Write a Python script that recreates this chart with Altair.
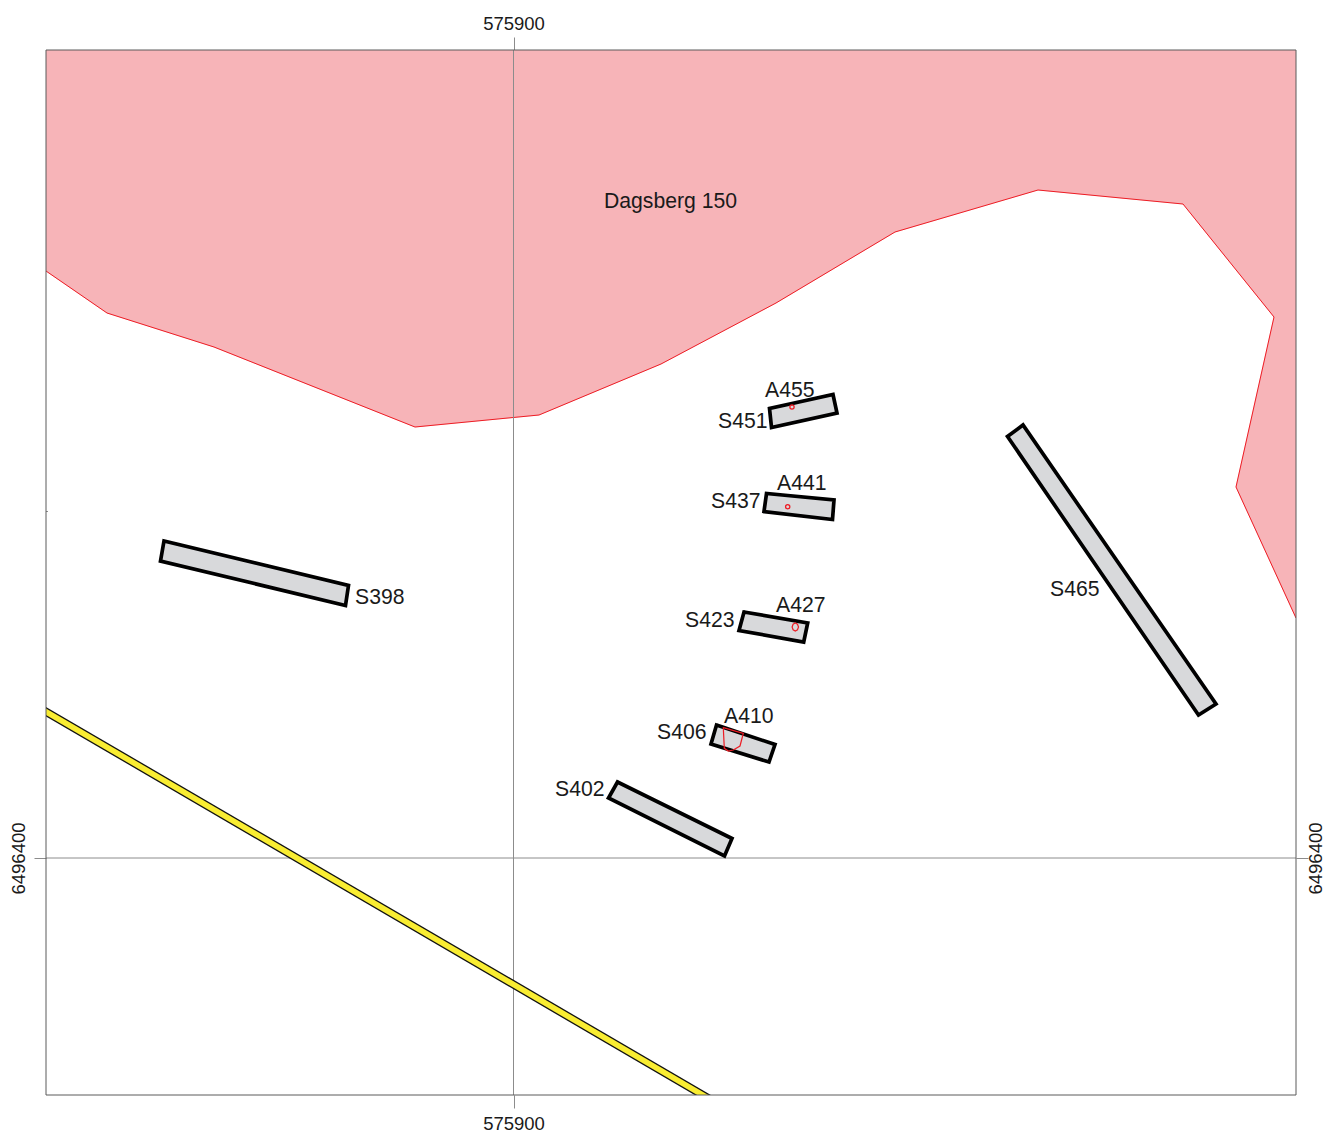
import altair as alt
import pandas as pd

E0 = 575900
N0 = 6496400
X_DOMAIN = [E0 - 46.75, E0 + 78.25]
Y_DOMAIN = [N0 - 23.7, N0 + 80.8]

# All offsets are map metres from the labelled grid crossing.
zone_dx = [-46.75, 78.25, 78.25, 72.25, 76.05, 66.95, 52.45, 38.15, 26.25, 14.75, 2.55, -9.85, -29.95, -40.65, -46.75, -46.75]
zone_dy = [80.8, 80.8, 24.0, 37.1, 54.1, 65.4, 66.8, 62.6, 55.5, 49.4, 44.3, 43.1, 51.1, 54.5, 58.7, 80.8]
zone_edge_dx = [78.25, 72.25, 76.05, 66.95, 52.45, 38.15, 26.25, 14.75, 2.55, -9.85, -29.95, -40.65, -46.75]
zone_edge_dy = [24.0, 37.1, 54.1, 65.4, 66.8, 62.6, 55.5, 49.4, 44.3, 43.1, 51.1, 54.5, 58.7]

road_dx = [-47.75, 19.85]
road_dy = [15.22, -24.24]

trenches = {
    "S398": ([-34.95, -16.5, -16.8, -35.3], [31.7, 27.25, 25.25, 29.7]),
    "S465": ([50.95, 49.4, 68.5, 70.25], [43.3, 42.15, 14.3, 15.4]),
    "S451": ([25.6, 31.95, 32.35, 25.8], [44.95, 46.35, 44.5, 43.05]),
    "S437": ([25.3, 32.05, 31.9, 25.05], [36.45, 35.8, 33.85, 34.65]),
    "S423": ([23.05, 29.42, 29.02, 22.55], [24.6, 23.5, 21.6, 22.75]),
    "S406": ([20.3, 26.15, 25.55, 19.75], [13.3, 11.35, 9.6, 11.4]),
    "S402": ([10.4, 21.85, 21.1, 9.5], [7.6, 1.95, 0.2, 6.0]),
}
features = {
    "A410": ([20.98, 22.98, 22.65, 21.98, 21.48, 21.08], [13.03, 12.47, 11.2, 10.8, 10.7, 10.97]),
    "A427": ([28.18, 28.4, 28.5, 28.4, 28.18, 27.96, 27.86, 27.96], [23.5, 23.38, 23.1, 22.82, 22.7, 22.82, 23.1, 23.38]),
}
pit_names = ["A455", "A441"]
pit_dx = [27.85, 27.42]
pit_dy = [45.1, 35.13]

label_text = ["Dagsberg 150", "S398", "S465", "S451", "A455", "A441", "S437", "A427", "S423", "A410", "S406", "S402"]
label_dx = [9.05, -15.85, 53.65, 20.45, 25.15, 26.35, 19.75, 26.25, 17.15, 21.05, 14.35, 4.15]
label_dy = [65.6, 26.0, 26.8, 43.6, 46.7, 37.4, 35.6, 25.2, 23.7, 14.1, 12.5, 6.8]


def polygons(shapes):
    rows = []
    for name, (dxs, dys) in shapes.items():
        xs = list(dxs) + [dxs[0], dxs[1]]
        ys = list(dys) + [dys[0], dys[1]]
        for i, (dx, dy) in enumerate(zip(xs, ys)):
            rows.append({"name": name, "i": i, "x": E0 + dx, "y": N0 + dy})
    return pd.DataFrame(rows)


def path(dxs, dys):
    return pd.DataFrame({"i": range(len(dxs)), "x": [E0 + d for d in dxs], "y": [N0 + d for d in dys]})


X = lambda axis=None: alt.X("x:Q", scale=alt.Scale(domain=X_DOMAIN, nice=False, zero=False), axis=axis)
Y = lambda axis=None: alt.Y("y:Q", scale=alt.Scale(domain=Y_DOMAIN, nice=False, zero=False), axis=axis)

AX_FONT = "Liberation Sans"
GRID = "#8c8c8c"
common = dict(title=None, domain=False, grid=False, tickColor=GRID, tickWidth=1,
              labelFont=AX_FONT, labelFontSize=18.5, labelColor="#1a1a1a", labelOverlap=False, labelFlush=False)


def x_axis(orient):
    return alt.Axis(orient=orient, labelExpr="'575900'", values=[E0], tickSize=13,
                    labelPadding=4 if orient == "top" else 6, labelAngle=0,
                    labelAlign="center", **common)


def y_axis(orient):
    # The right-hand label sits on its baseline so that it ends inside the page.
    return alt.Axis(orient=orient, labelExpr="'6496400'", values=[N0], tickSize=12, labelAngle=270,
                    labelPadding=6 if orient == "left" else 13, labelAlign="center",
                    labelBaseline="bottom" if orient == "left" else "alphabetic", **common)


anchor = pd.DataFrame({"x": [E0], "y": [N0]})
axes_a = alt.Chart(anchor).mark_point(opacity=0).encode(x=X(x_axis("bottom")), y=Y(y_axis("left")))
axes_b = alt.Chart(anchor).mark_point(opacity=0).encode(x=X(x_axis("top")), y=Y(y_axis("right")))

zone = alt.Chart(path(zone_dx, zone_dy)).mark_line(fill="#f7b4b8", stroke="#f7b4b8", strokeWidth=0.5, clip=True).encode(
    x=X(), y=Y(), order="i:Q")
zone_edge = alt.Chart(path(zone_edge_dx, zone_edge_dy)).mark_line(color="#ed1c24", strokeWidth=1, clip=True).encode(
    x=X(), y=Y(), order="i:Q")

grid_v = alt.Chart(anchor).mark_rule(color=GRID, strokeWidth=1).encode(x=X())
grid_h = alt.Chart(anchor).mark_rule(color=GRID, strokeWidth=1).encode(y=Y())
small_tick = alt.Chart(pd.DataFrame({"y": [N0 + 34.65]})).mark_rule(color=GRID, strokeWidth=1).encode(
    x=alt.value(0), x2=alt.value(2), y=Y())

road_edge = alt.Chart(path(road_dx, road_dy)).mark_line(color="#111111", strokeWidth=8.2, clip=True).encode(
    x=X(), y=Y(), order="i:Q")
road_fill = alt.Chart(path(road_dx, road_dy)).mark_line(color="#f9ed32", strokeWidth=5.6, clip=True).encode(
    x=X(), y=Y(), order="i:Q")

trench = alt.Chart(polygons(trenches)).mark_line(
    fill="#d8d9db", stroke="#000000", strokeWidth=3.7, strokeJoin="miter", strokeMiterLimit=8
).encode(x=X(), y=Y(), order="i:Q", detail="name:N")

feature = alt.Chart(polygons(features)).mark_line(color="#ed1c24", strokeWidth=1.2).encode(
    x=X(), y=Y(), order="i:Q", detail="name:N")
pits = alt.Chart(path(pit_dx, pit_dy).assign(name=pit_names)).mark_point(
    shape="circle", size=18, filled=False, color="#ed1c24", strokeWidth=1.3, opacity=1).encode(x=X(), y=Y())

labels = alt.Chart(pd.DataFrame({"t": label_text, "x": [E0 + d for d in label_dx], "y": [N0 + d for d in label_dy]})).mark_text(
    align="left", baseline="middle", font="Liberation Sans", fontSize=21.2, color="#1a1a1a").encode(
    x=X(), y=Y(), text="t:N")

frame = alt.Chart(anchor).mark_rect(fillOpacity=0, stroke="#5a5a5a", strokeWidth=1).encode(
    x=alt.value(0), x2=alt.value(1250), y=alt.value(0), y2=alt.value(1045))

chart = alt.layer(
    axes_a, axes_b, zone, zone_edge, grid_v, grid_h, small_tick, road_edge, road_fill,
    trench, feature, pits, labels, frame
).resolve_axis(x="independent", y="independent").properties(
    width=1250, height=1045,
    autosize=alt.AutoSizeParams(type="none"),
    padding={"left": 38, "top": 42, "right": 29, "bottom": 38},
    background="white",
).configure_view(stroke=None)

chart.save("out.html", embed_options={"renderer": "svg", "actions": False})
